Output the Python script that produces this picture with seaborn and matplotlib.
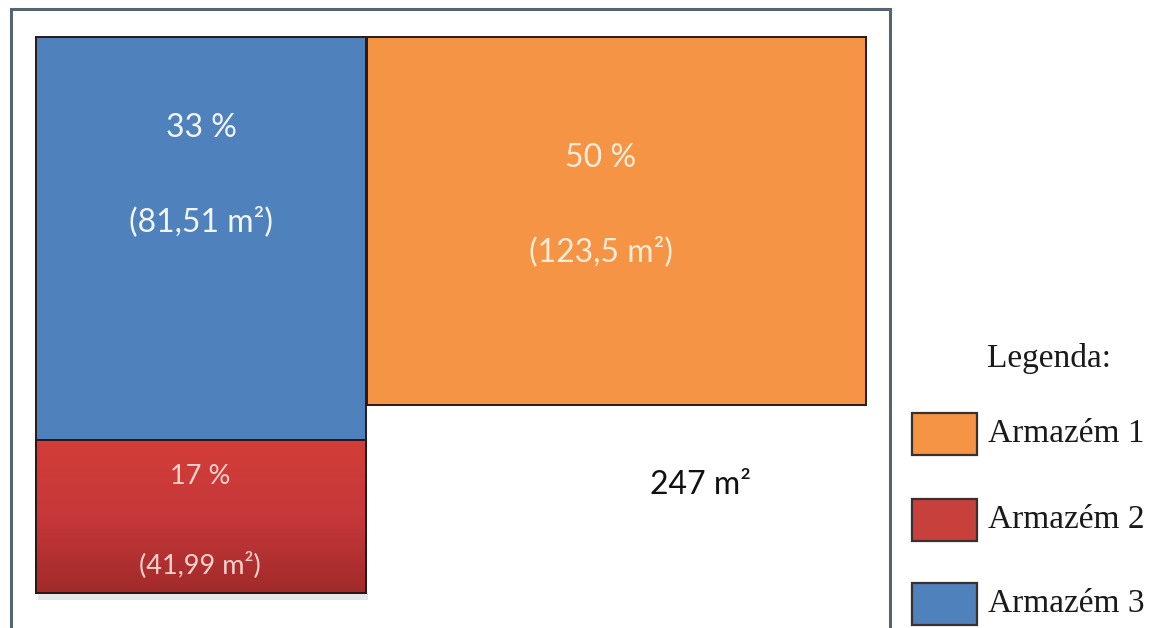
import numpy as np
import matplotlib
matplotlib.use("Agg")
import matplotlib.pyplot as plt
from matplotlib.colors import LinearSegmentedColormap
from matplotlib.patches import Rectangle
import seaborn as sns

# ---------------- data ----------------
armazens = ["Armazém 1", "Armazém 2", "Armazém 3"]
percentuais = [50, 17, 33]
areas_m2 = [123.5, 41.99, 81.51]
area_total = 247
legenda_titulo = "Legenda:"

# ---------------- styling / layout (pixel space of a 1154x628 canvas) ----------------
cores = ["#F59444", "#C8403C", "#4F81BD"]
cores_texto = ["#FBEBD8", "#F6D3CB", "#F2F6FB"]
# rectangle layout: (left, top, width, height)
ret_x = [367, 36, 36]
ret_y = [37, 440, 37]
ret_w = [499, 330, 330]
ret_h = [368, 153, 403]
# label positions: percentage line and area line (x, y)
lab_x = [601, 200, 201]
lab_pct_y = [158, 476, 128]
lab_area_y = [252, 565, 222]
lab_size = [23, 19.5, 23]

sns.set_theme(style="white")
plt.rcParams["font.family"] = ["Lato", "DejaVu Sans"]

fig = plt.figure(figsize=(11.54, 6.28), dpi=100)
ax = fig.add_axes([0, 0, 1, 1])
ax.set_xlim(0, 1154)
ax.set_ylim(628, 0)
ax.axis("off")

# outer frame (open at the bottom)
frame_col = "#56656F"
ax.plot([11, 11, 890, 890], [640, 9, 9, 640], color=frame_col, lw=2.2,
        solid_joinstyle="miter", zorder=1)

# shadow below the red block
ax.add_patch(Rectangle((38, 593), 330, 7, facecolor="#D4D8DC", edgecolor="none",
                       alpha=0.6, zorder=1))

bars = ax.bar(ret_x, ret_h, width=ret_w, bottom=ret_y, align="edge",
              color=cores, edgecolor="#2A1818", linewidth=1.4, zorder=2)

# vertical gradient for Armazém 2 (red)
red_bar = bars[1]
grad = np.linspace(0, 1, 256).reshape(-1, 1)
cmap = LinearSegmentedColormap.from_list("red_grad", ["#D33D38", "#C6383A", "#A22A2A"])
im = ax.imshow(grad, cmap=cmap, aspect="auto",
               extent=[ret_x[1], ret_x[1] + ret_w[1], ret_y[1] + ret_h[1], ret_y[1]],
               zorder=2.5)
im.set_clip_path(red_bar)
ax.add_patch(Rectangle((ret_x[1], ret_y[1]), ret_w[1], ret_h[1], facecolor="none",
                       edgecolor="#2A1818", linewidth=1.4, zorder=3))
ax.set_xlim(0, 1154)
ax.set_ylim(628, 0)


def fmt_area(v):
    s = f"{v:g}".replace(".", ",")
    return f"({s} m²)"


for i in range(len(armazens)):
    ax.text(lab_x[i], lab_pct_y[i], f"{percentuais[i]} %", color=cores_texto[i],
            fontsize=lab_size[i], ha="center", va="center", zorder=4)
    ax.text(lab_x[i], lab_area_y[i], fmt_area(areas_m2[i]), color=cores_texto[i],
            fontsize=lab_size[i], ha="center", va="center", zorder=4)

ax.text(701, 485, f"{area_total} m²", color="#111111", fontsize=23,
        ha="center", va="center", zorder=4)

# legend
serif = ["Liberation Serif", "DejaVu Serif"]
ax.text(987, 367, legenda_titulo, family=serif, fontsize=24, color="#1A1A1A",
        ha="left", va="baseline")
leg_y = [413, 499, 583]
for i in range(len(armazens)):
    col = cores[i]
    ax.add_patch(Rectangle((912, leg_y[i]), 65, 42, facecolor=col,
                           edgecolor="#3A3030", linewidth=1.6, zorder=3))
    ax.text(988, leg_y[i] + 21, armazens[i], family=serif, fontsize=24,
            color="#1A1A1A", ha="left", va="center")

fig.savefig("out.png", dpi=100, facecolor="white")
